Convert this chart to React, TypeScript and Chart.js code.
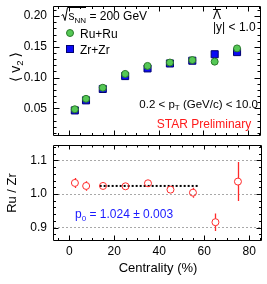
import { useEffect, useRef } from 'react';
import { Chart, registerables } from 'chart.js';

Chart.register(...registerables);

const FONT = "'Liberation Sans', Arial, Helvetica, sans-serif";

// ---- data ----
const centrality = [2.5, 7.5, 15, 25, 35, 45, 55, 65, 75];
const v2RuRu = [0.0485, 0.0655, 0.0835, 0.106, 0.119, 0.1245, 0.1285, 0.126, 0.1475];
const v2ZrZr = [0.0466, 0.063, 0.0815, 0.1025, 0.115, 0.123, 0.1275, 0.138, 0.1415];
const ratioRuZr = [1.033, 1.024, 1.024, 1.023, 1.032, 1.013, 1.004, 0.916, 1.037];
const ratioErr = [0.015, 0.014, 0.006, 0.006, 0.006, 0.011, 0.015, 0.026, 0.058];
const fitP0 = 1.024;
const fitP0Err = 0.003;
const fitRange = [13.5, 57.5];

const xTicks = [0, 20, 40, 60, 80];
const xTickLabels = ['0', '20', '40', '60', '80'];
const v2Ticks = [0.05, 0.1, 0.15, 0.2];
const v2TickLabels = ['0.05', '0.10', '0.15', '0.20'];
const ratioTicks = [0.9, 1.0, 1.1];
const ratioTickLabels = ['0.9', '1.0', '1.1'];

const X_MIN = -6.8;
const X_MAX = 85.7;
const V2_MIN = 0.005;
const V2_MAX = 0.2165;
const R_MIN = 0.86;
const R_MAX = 1.146;

function steps(min: number, max: number, step: number): number[] {
  const out: number[] = [];
  const n0 = Math.ceil(min / step - 1e-9);
  const n1 = Math.floor(max / step + 1e-9);
  for (let n = n0; n <= n1; n++) out.push(+(n * step).toFixed(6));
  return out;
}

const COL_RU = '#55c855';
const COL_RU_EDGE = '#2a7a2a';
const COL_ZR = '#0a0af5';
const COL_ZR_EDGE = '#000070';
const COL_RATIO = '#ff2a2a';

function framePlugin(cfg: {
  xMinor: number[]; yMinor: number[]; xMajor: number[]; yMajor: number[];
  xTopMaj: number; xTopMin: number; xBotMaj: number; xBotMin: number;
  yMaj: number; yMin: number;
}) {
  return {
    id: 'rootFrame',
    afterDraw(chart: any) {
      const { ctx, chartArea: a } = chart;
      const xs = chart.scales.x;
      const ys = chart.scales.y;
      const L = Math.round(a.left) - 0.5;
      const R = Math.round(a.right) - 0.5;
      const T = Math.round(a.top) + 0.5;
      const B = Math.round(a.bottom) - 0.5;
      ctx.save();
      ctx.strokeStyle = '#000';
      ctx.lineWidth = 1;
      ctx.beginPath();
      ctx.rect(L, T, R - L, B - T);
      const vt = (v: number, top: number, bot: number) => {
        const px = Math.round(xs.getPixelForValue(v)) + 0.5;
        if (px < L || px > R) return;
        ctx.moveTo(px, B); ctx.lineTo(px, B - bot);
        ctx.moveTo(px, T); ctx.lineTo(px, T + top);
      };
      const ht = (v: number, len: number) => {
        const py = Math.round(ys.getPixelForValue(v)) + 0.5;
        if (py < T || py > B) return;
        ctx.moveTo(L, py); ctx.lineTo(L + len, py);
        ctx.moveTo(R, py); ctx.lineTo(R - len, py);
      };
      cfg.xMinor.forEach((v) => vt(v, cfg.xTopMin, cfg.xBotMin));
      cfg.xMajor.forEach((v) => vt(v, cfg.xTopMaj, cfg.xBotMaj));
      cfg.yMinor.forEach((v) => ht(v, cfg.yMin));
      cfg.yMajor.forEach((v) => ht(v, cfg.yMaj));
      ctx.stroke();
      ctx.restore();
    },
  };
}

function drawSub(ctx: CanvasRenderingContext2D, x: number, y: number, main: string, sub: string, size: number, subSize: number, drop: number): number {
  ctx.font = `${size}px ${FONT}`;
  ctx.fillText(main, x, y);
  let w = ctx.measureText(main).width;
  ctx.font = `${subSize}px ${FONT}`;
  ctx.fillText(sub, x + w, y + drop);
  w += ctx.measureText(sub).width;
  return w;
}

const topAnnotations = {
  id: 'topAnnotations',
  afterDraw(chart: any) {
    const ctx: CanvasRenderingContext2D = chart.ctx;
    ctx.save();
    ctx.fillStyle = '#000';
    ctx.strokeStyle = '#000';
    ctx.textBaseline = 'alphabetic';
    ctx.textAlign = 'left';
    // sqrt(s_NN) = 200 GeV
    ctx.lineWidth = 1;
    ctx.beginPath();
    ctx.moveTo(61.5, 15.5);
    ctx.lineTo(63, 14.5);
    ctx.lineTo(65, 20.5);
    ctx.lineTo(67.5, 7.5);
    ctx.lineTo(86, 7.5);
    ctx.stroke();
    const w = drawSub(ctx, 68.5, 20, 's', 'NN', 12, 8, 2.5);
    ctx.font = `12px ${FONT}`;
    ctx.fillText(' = 200 GeV', 68.5 + w, 20);

    // legend
    ctx.beginPath();
    ctx.arc(70, 33, 3.5, 0, Math.PI * 2);
    ctx.fillStyle = COL_RU; ctx.fill();
    ctx.strokeStyle = COL_RU_EDGE; ctx.stroke();
    ctx.fillStyle = COL_ZR; ctx.strokeStyle = COL_ZR_EDGE;
    ctx.fillRect(66.5, 45.5, 7, 7);
    ctx.strokeRect(66.5, 45.5, 7, 7);
    ctx.fillStyle = '#000';
    ctx.font = `12px ${FONT}`;
    ctx.fillText('Ru+Ru', 80, 37.5);
    ctx.fillText('Zr+Zr', 80, 53.5);

    // anti-Lambda
    ctx.fillText('Λ', 213, 19);
    ctx.strokeStyle = '#000';
    ctx.beginPath();
    ctx.moveTo(213, 9.5); ctx.lineTo(221, 9.5);
    ctx.stroke();
    ctx.fillText('|y| < 1.0', 213, 31);

    // pT range (right aligned at 258)
    const fs = 11.5;
    ctx.font = `${fs}px ${FONT}`;
    const a1 = '0.2 < p';
    const a2 = ' (GeV/c) < 10.0';
    const w1 = ctx.measureText(a1).width;
    const w3 = ctx.measureText(a2).width;
    ctx.font = `8px ${FONT}`;
    const w2 = ctx.measureText('T').width;
    const x0 = 258 - (w1 + w2 + w3);
    const ww = drawSub(ctx, x0, 107.5, a1, 'T', fs, 8, 2.5);
    ctx.font = `${fs}px ${FONT}`;
    ctx.fillText(a2, x0 + ww, 107.5);

    // STAR Preliminary
    ctx.font = `12px ${FONT}`;
    ctx.fillStyle = '#ff1a1a';
    ctx.textAlign = 'center';
    ctx.fillText('STAR Preliminary', 204, 128);

    // y title <v2>
    ctx.fillStyle = '#000';
    ctx.translate(15, 67);
    ctx.rotate(-Math.PI / 2);
    ctx.textAlign = 'left';
    const lb = '⟨';
    const rb = '⟩';
    ctx.font = `14px ${FONT}`;
    const wv = ctx.measureText(' v').width;
    ctx.font = `9.5px ${FONT}`;
    const w2s = ctx.measureText('2').width;
    ctx.font = `14px 'DejaVu Sans', ${FONT}`;
    const wl = ctx.measureText(lb).width;
    const wr = ctx.measureText(rb).width;
    const total = wl + wv + w2s + 3 + wr;
    let cx = -total / 2;
    ctx.fillText(lb, cx, 4.5);
    cx += wl;
    ctx.font = `14px ${FONT}`;
    ctx.fillText(' v', cx, 4.5);
    cx += wv;
    ctx.font = `9.5px ${FONT}`;
    ctx.fillText('2', cx, 7.5);
    cx += w2s + 3;
    ctx.font = `14px 'DejaVu Sans', ${FONT}`;
    ctx.fillText(rb, cx, 4.5);
    ctx.restore();
  },
};

const bottomAnnotations = {
  id: 'bottomAnnotations',
  beforeDatasetsDraw(chart: any) {
    const ctx: CanvasRenderingContext2D = chart.ctx;
    const xs = chart.scales.x;
    const ys = chart.scales.y;
    ctx.save();
    ctx.strokeStyle = COL_RATIO;
    ctx.lineWidth = 1.3;
    ctx.beginPath();
    centrality.forEach((c, i) => {
      const px = Math.round(xs.getPixelForValue(c)) + 0.5;
      const yc = ys.getPixelForValue(ratioRuZr[i]);
      const yHi = ys.getPixelForValue(ratioRuZr[i] + ratioErr[i]);
      const yLo = ys.getPixelForValue(ratioRuZr[i] - ratioErr[i]);
      const r = 3.5;
      if (yHi < yc - r) { ctx.moveTo(px, yHi); ctx.lineTo(px, yc - r); }
      if (yLo > yc + r) { ctx.moveTo(px, yc + r); ctx.lineTo(px, yLo); }
    });
    ctx.stroke();
    ctx.restore();
  },
  afterDraw(chart: any) {
    const ctx: CanvasRenderingContext2D = chart.ctx;
    ctx.save();
    ctx.fillStyle = '#1a1aff';
    ctx.textBaseline = 'alphabetic';
    ctx.textAlign = 'left';
    const w = drawSub(ctx, 75, 78, 'p', '0', 12, 8, 3);
    ctx.font = `12px ${FONT}`;
    ctx.fillText(` = ${fitP0.toFixed(3)} ± ${fitP0Err.toFixed(3)}`, 75 + w, 78);
    ctx.restore();
  },
};

const tickFont = { family: FONT, size: 12 };

export default function App() {
  const topRef = useRef<HTMLCanvasElement>(null);
  const botRef = useRef<HTMLCanvasElement>(null);

  useEffect(() => {
    const top = new Chart(topRef.current as HTMLCanvasElement, {
      type: 'scatter',
      data: {
        datasets: [
          {
            label: 'Ru+Ru',
            data: centrality.map((x, i) => ({ x, y: v2RuRu[i] })),
            pointStyle: 'circle',
            pointRadius: 3.5,
            backgroundColor: COL_RU,
            borderColor: COL_RU_EDGE,
            borderWidth: 1,
          },
          {
            label: 'Zr+Zr',
            data: centrality.map((x, i) => ({ x, y: v2ZrZr[i] })),
            pointStyle: 'rect',
            pointRadius: 5,
            backgroundColor: COL_ZR,
            borderColor: COL_ZR_EDGE,
            borderWidth: 1,
          },
        ],
      },
      options: {
        animation: false,
        responsive: false,
        events: [],
        layout: { padding: { left: 0, top: 0, right: 4, bottom: 1 } },
        plugins: { legend: { display: false }, tooltip: { enabled: false } },
        scales: {
          x: { type: 'linear', min: X_MIN, max: X_MAX, display: false },
          y: {
            type: 'linear',
            min: V2_MIN,
            max: V2_MAX,
            afterBuildTicks: (s: any) => { s.ticks = v2Ticks.map((v) => ({ value: v })); },
            afterFit: (s: any) => { s.width = 54; s.paddingTop = 0; s.paddingBottom = 0; },
            grid: { display: false, drawTicks: false },
            border: { display: false },
            ticks: {
              padding: 7,
              color: '#000',
              font: tickFont,
              callback: (_v: any, i: number) => v2TickLabels[i],
            },
          },
        },
      } as any,
      plugins: [
        framePlugin({
          xMinor: steps(X_MIN, X_MAX, 5), xMajor: xTicks,
          yMinor: steps(V2_MIN, V2_MAX, 0.01), yMajor: v2Ticks,
          xTopMaj: 5, xTopMin: 2.5, xBotMaj: 5, xBotMin: 2.5,
          yMaj: 6, yMin: 3,
        }),
        topAnnotations,
      ],
    });

    const bot = new Chart(botRef.current as HTMLCanvasElement, {
      type: 'scatter',
      data: {
        datasets: [
          {
            label: 'Ru/Zr',
            data: centrality.map((x, i) => ({ x, y: ratioRuZr[i] })),
            pointStyle: 'circle',
            pointRadius: 3.5,
            backgroundColor: 'rgba(255,255,255,0)',
            borderColor: COL_RATIO,
            borderWidth: 1,
          },
          {
            label: 'p0 fit',
            type: 'line',
            data: fitRange.map((x) => ({ x, y: fitP0 })),
            borderColor: '#000',
            borderWidth: 2,
            borderDash: [2, 2],
            pointRadius: 0,
            fill: false,
            showLine: true,
          },
        ],
      },
      options: {
        animation: false,
        responsive: false,
        events: [],
        layout: { padding: { left: 0, top: 0, right: 4, bottom: 0 } },
        plugins: { legend: { display: false }, tooltip: { enabled: false } },
        scales: {
          x: {
            type: 'linear',
            position: 'bottom',
            min: X_MIN,
            max: X_MAX,
            afterBuildTicks: (s: any) => { s.ticks = xTicks.map((v) => ({ value: v })); },
            afterFit: (s: any) => { s.height = 43; s.paddingLeft = 0; s.paddingRight = 0; },
            grid: { display: false, drawTicks: false },
            border: { display: false },
            ticks: {
              padding: 3,
              color: '#000',
              font: tickFont,
              maxRotation: 0,
              autoSkip: false,
              callback: (_v: any, i: number) => xTickLabels[i],
            },
            title: {
              display: true,
              text: 'Centrality (%)',
              color: '#000',
              font: { family: FONT, size: 13 },
              padding: { top: 0, bottom: 7.5 },
            },
          },
          y: {
            type: 'linear',
            min: R_MIN,
            max: R_MAX,
            afterBuildTicks: (s: any) => { s.ticks = ratioTicks.map((v) => ({ value: v })); },
            afterFit: (s: any) => { s.width = 54; s.paddingTop = 0; s.paddingBottom = 0; },
            grid: { display: true, drawTicks: false, color: '#a8a8a8', lineWidth: 1 },
            border: { display: false, dash: [2, 2] },
            ticks: {
              padding: 7,
              color: '#000',
              font: tickFont,
              callback: (_v: any, i: number) => ratioTickLabels[i],
            },
            title: {
              display: true,
              text: 'Ru / Zr',
              color: '#000',
              font: { family: FONT, size: 13 },
              padding: { top: 5, bottom: 0 },
            },
          },
        },
      } as any,
      plugins: [
        framePlugin({
          xMinor: steps(X_MIN, X_MAX, 5), xMajor: xTicks,
          yMinor: steps(R_MIN, R_MAX, 0.02), yMajor: ratioTicks,
          xTopMaj: 4, xTopMin: 2, xBotMaj: 5, xBotMin: 2.5,
          yMaj: 5, yMin: 2.5,
        }),
        bottomAnnotations,
      ],
    });

    return () => {
      top.destroy();
      bot.destroy();
    };
  }, []);

  return (
    <div style={{ position: 'fixed', left: 0, top: 0, width: 267, height: 284, background: '#fff' }}>
      <canvas ref={topRef} width={267} height={142}
        style={{ position: 'absolute', left: 0, top: 0, width: 267, height: 142, display: 'block' }} />
      <canvas ref={botRef} width={267} height={144}
        style={{ position: 'absolute', left: 0, top: 140, width: 267, height: 144, display: 'block' }} />
    </div>
  );
}
